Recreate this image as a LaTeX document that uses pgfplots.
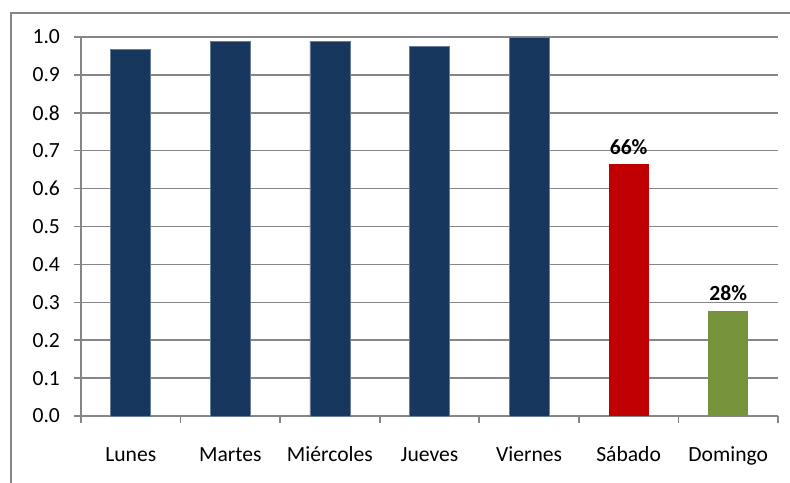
\documentclass[border=0pt]{standalone}
\usepackage{fontspec}
\setmainfont{Carlito}
\usepackage{pgfplots}
\pgfplotsset{compat=1.18}
\definecolor{navy}{HTML}{17375E}
\definecolor{bred}{HTML}{C00000}
\definecolor{bgreen}{HTML}{77933C}
\definecolor{lgray}{HTML}{868686}
\begin{document}
\begin{tikzpicture}
\useasboundingbox (-40.5pt,-33pt) rectangle (354.5pt,208pt);
\draw[lgray, line width=1pt] (-35pt,-40pt) -- (-35pt,201.5pt) -- (360pt,201.5pt);
\begin{axis}[
  at={(0,0)}, anchor=south west,
  width=348.5pt, height=189.5pt, scale only axis,
  font=\fontsize{10.8}{13}\selectfont,
  xmin=-0.5, xmax=6.5, ymin=0, ymax=1,
  axis x line*=bottom, axis y line*=left,
  axis line style={lgray, line width=0.8pt},
  ytick={0,0.1,0.2,0.3,0.4,0.5,0.6,0.7,0.8,0.9,1.0},
  /pgf/number format/fixed, /pgf/number format/fixed zerofill,
  /pgf/number format/precision=1, /pgf/number format/assume math mode=true,
  yticklabel style={xshift=-3.5pt},
  ymajorgrids, grid style={lgray, line width=0.8pt},
  tick align=outside, major tick length=3.5pt, minor tick length=3.5pt,
  major y tick style={lgray, line width=0.8pt},
  xtick={0,1,2,3,4,5,6},
  xticklabels={Lunes,Martes,Miércoles,Jueves,Viernes,Sábado,Domingo},
  major x tick style={draw=none},
  minor xtick={-0.5,0.5,1.5,2.5,3.5,4.5,5.5,6.5},
  minor x tick style={lgray, line width=0.8pt},
  xticklabel style={yshift=-7.8pt, text height=8pt, text depth=2.5pt},
  ybar, bar width=20pt,
  nodes near coords style={font=\fontsize{10.8}{13}\selectfont\bfseries, yshift=1.5pt},
]
\addplot[fill=navy, draw=navy!65!white, line width=0.4pt, bar shift=0pt] coordinates {(0,0.968) (1,0.989) (2,0.989) (3,0.975) (4,0.998)};
\addplot[fill=bred, draw=none, bar shift=0pt, nodes near coords, point meta=explicit symbolic] coordinates {(5,0.664) [66\%]};
\addplot[fill=bgreen, draw=none, bar shift=0pt, nodes near coords, point meta=explicit symbolic] coordinates {(6,0.277) [28\%]};
\end{axis}
\end{tikzpicture}
\end{document}
